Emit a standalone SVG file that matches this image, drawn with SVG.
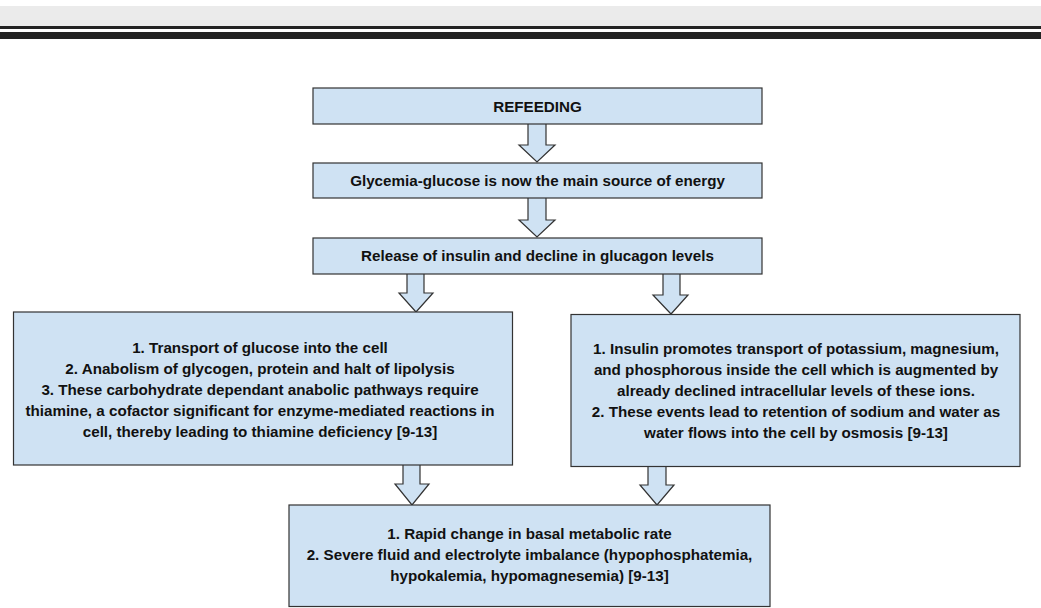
<svg xmlns="http://www.w3.org/2000/svg" width="1041" height="608" viewBox="0 0 1041 608">
<style>
.box{fill:#cfe2f3;stroke:#333;stroke-width:1.2}
.arr{fill:#cfe2f3;stroke:#333;stroke-width:1.2;stroke-linejoin:miter}
text{font-family:"Liberation Sans",Arial,sans-serif;font-weight:bold;font-size:15.2px;fill:#111;text-anchor:middle}
</style>
<rect x="0" y="0" width="1041" height="608" fill="#fff"/>
<rect x="0" y="6" width="1041" height="20" fill="#ebebeb"/>
<rect x="0" y="26" width="1041" height="3" fill="#222"/>
<rect x="0" y="32" width="1041" height="7" fill="#222"/>
<g id="connectors">
<path class="arr" d="M528,124 V145 H519 L537,162 L555,145 H546 V124"/>
<path class="arr" d="M528,198 V220 H519 L537,237 L555,220 H546 V198"/>
<path class="arr" d="M407,274 V293 H399 L416,312 L433,293 H424 V274"/>
<path class="arr" d="M663,274 V295 H653 L671,314 L688,295 H680 V274"/>
<path class="arr" d="M403,465 V484 H395 L412,505 L429,484 H420 V465"/>
<path class="arr" d="M648,467 V485 H640 L657,505 L674,485 H666 V467"/>
</g>
<g id="n1"><rect class="box" x="313" y="88" width="449" height="36"/><text x="537.5" y="111.5">REFEEDING</text></g>
<g id="n2"><rect class="box" x="313" y="163" width="449" height="35"/><text x="537.5" y="185.5">Glycemia-glucose is now the main source of energy</text></g>
<g id="n3"><rect class="box" x="313" y="238" width="449" height="36"/><text x="537.5" y="261">Release of insulin and decline in glucagon levels</text></g>
<g id="n4"><rect class="box" x="13.5" y="312" width="499" height="153"/>
<text x="260" y="353.3">1. Transport of glucose into the cell</text>
<text x="260" y="374.3">2. Anabolism of glycogen, protein and halt of lipolysis</text>
<text x="260" y="395.3">3. These carbohydrate dependant anabolic pathways require</text>
<text x="260" y="416.3">thiamine, a cofactor significant for enzyme-mediated reactions in</text>
<text x="260" y="437.3">cell, thereby leading to thiamine deficiency [9-13]</text></g>
<g id="n5"><rect class="box" x="571" y="314.5" width="449" height="152"/>
<text x="796" y="354.3">1. Insulin promotes transport of potassium, magnesium,</text>
<text x="796" y="375.2">and phosphorous inside the cell which is augmented by</text>
<text x="796" y="396">already declined intracellular levels of these ions.</text>
<text x="796" y="416.9">2. These events lead to retention of sodium and water as</text>
<text x="796" y="437.8">water flows into the cell by osmosis [9-13]</text></g>
<g id="n6"><rect class="box" x="289" y="505" width="481" height="101.5"/>
<text x="529.5" y="539.3">1. Rapid change in basal metabolic rate</text>
<text x="529.5" y="560.2">2. Severe fluid and electrolyte imbalance (hypophosphatemia,</text>
<text x="529.5" y="581">hypokalemia, hypomagnesemia) [9-13]</text></g>
</svg>
